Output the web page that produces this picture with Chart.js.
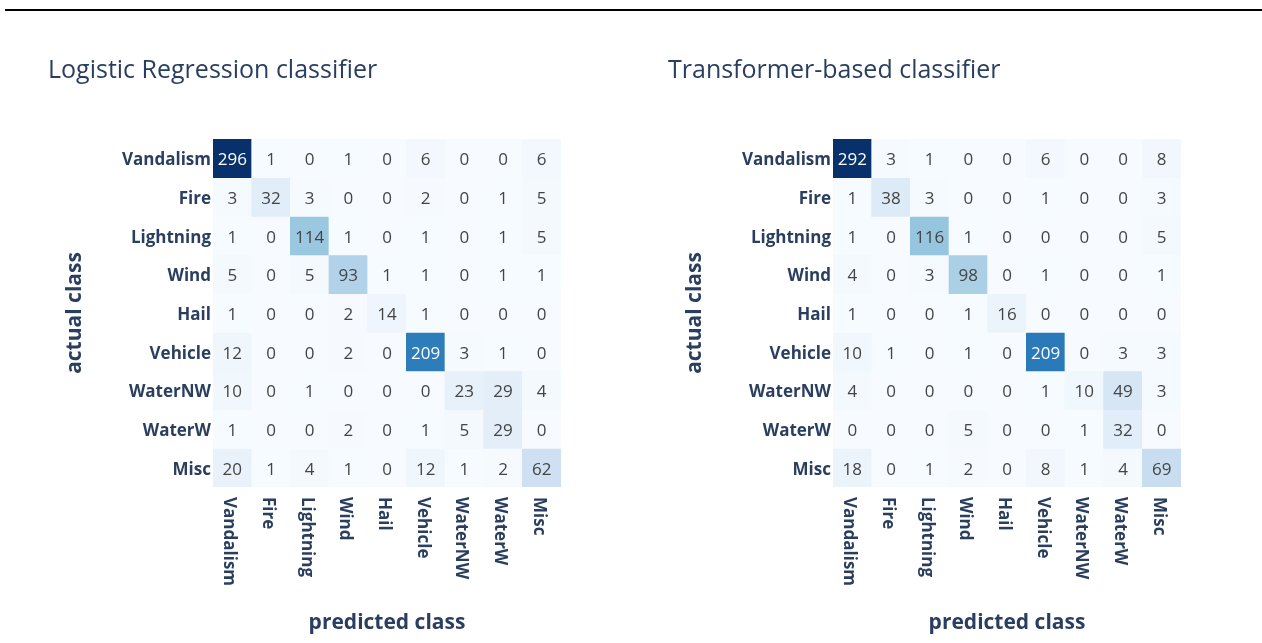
<!DOCTYPE html>
<html>
<head>
<meta charset="utf-8">
<script src="https://cdn.jsdelivr.net/npm/chart.js@4/dist/chart.umd.min.js"></script>
<style>
  html, body { margin: 0; padding: 0; background: #fff; }
  body { width: 1262px; height: 643px; position: relative; overflow: hidden; }
  .topline { position: absolute; left: 5px; top: 9px; width: 1257px; height: 2px; background: #000; }
  .box { position: absolute; top: 0; width: 631px; height: 643px; }
</style>
</head>
<body>
<div class="topline"></div>
<div class="box" style="left:0"><canvas id="lrChart" width="631" height="643"></canvas></div>
<div class="box" style="left:620px"><canvas id="tfChart" width="631" height="643"></canvas></div>
<script>
const classes = ['Vandalism', 'Fire', 'Lightning', 'Wind', 'Hail', 'Vehicle', 'WaterNW', 'WaterW', 'Misc'];

// rows = actual class, columns = predicted class
const lrCounts = [
  [296, 1, 0, 1, 0, 6, 0, 0, 6],
  [3, 32, 3, 0, 0, 2, 0, 1, 5],
  [1, 0, 114, 1, 0, 1, 0, 1, 5],
  [5, 0, 5, 93, 1, 1, 0, 1, 1],
  [1, 0, 0, 2, 14, 1, 0, 0, 0],
  [12, 0, 0, 2, 0, 209, 3, 1, 0],
  [10, 0, 1, 0, 0, 0, 23, 29, 4],
  [1, 0, 0, 2, 0, 1, 5, 29, 0],
  [20, 1, 4, 1, 0, 12, 1, 2, 62],
];

const tfCounts = [
  [292, 3, 1, 0, 0, 6, 0, 0, 8],
  [1, 38, 3, 0, 0, 1, 0, 0, 3],
  [1, 0, 116, 1, 0, 0, 0, 0, 5],
  [4, 0, 3, 98, 0, 1, 0, 0, 1],
  [1, 0, 0, 1, 16, 0, 0, 0, 0],
  [10, 1, 0, 1, 0, 209, 0, 3, 3],
  [4, 0, 0, 0, 0, 1, 10, 49, 3],
  [0, 0, 0, 5, 0, 0, 1, 32, 0],
  [18, 0, 1, 2, 0, 8, 1, 4, 69],
];

const FONT = "'Open Sans', 'Noto Sans', sans-serif";
const NAVY = '#2a3f5f';

// plotly "Blues" colorscale
const blues = [
  [0, [247, 251, 255]], [0.125, [222, 235, 247]], [0.25, [198, 219, 239]],
  [0.375, [158, 202, 225]], [0.5, [107, 174, 214]], [0.625, [66, 146, 198]],
  [0.75, [33, 113, 181]], [0.875, [8, 81, 156]], [1, [8, 48, 107]],
];

function blueFor(t) {
  for (let i = 1; i < blues.length; i++) {
    if (t <= blues[i][0]) {
      const [t0, c0] = blues[i - 1];
      const [t1, c1] = blues[i];
      const f = (t - t0) / (t1 - t0);
      const c = c0.map((v, k) => Math.round(v + (c1[k] - v) * f));
      return `rgb(${c[0]},${c[1]},${c[2]})`;
    }
  }
  return 'rgb(8,48,107)';
}

const cellText = {
  id: 'cellText',
  afterDatasetsDraw(chart) {
    const { ctx } = chart;
    const max = chart.options.plugins.cellText.max;
    ctx.save();
    ctx.font = `17px ${FONT}`;
    ctx.textAlign = 'center';
    ctx.textBaseline = 'middle';
    chart.data.datasets.forEach((ds, r) => {
      const meta = chart.getDatasetMeta(r);
      meta.data.forEach((bar, c) => {
        const v = ds.counts[c];
        ctx.fillStyle = v / max > 0.5 ? '#fff' : 'rgb(68,68,68)';
        ctx.fillText(String(v), bar.x, (bar.y + bar.base) / 2 + 2);
      });
    });
    ctx.restore();
  },
};

// x tick labels rotated clockwise (read top to bottom)
const xLabels = {
  id: 'xLabels',
  afterDraw(chart) {
    const { ctx } = chart;
    const x = chart.scales.x;
    ctx.save();
    ctx.font = `bold 17px ${FONT}`;
    ctx.fillStyle = NAVY;
    ctx.textAlign = 'left';
    ctx.textBaseline = 'middle';
    classes.forEach((lab, i) => {
      ctx.save();
      ctx.translate(x.getPixelForTick(i) - 3, chart.chartArea.bottom + 10);
      ctx.rotate(Math.PI / 2);
      ctx.fillText(lab, 0, 0);
      ctx.restore();
    });
    ctx.restore();
  },
};

function buildMatrix(canvasId, title, counts) {
  const max = Math.max(...counts.flat());
  const datasets = counts.map((row, r) => ({
    label: classes[r],
    counts: row,
    data: row.map(() => [r - 0.5, r + 0.5]),
    backgroundColor: row.map(v => blueFor(v / max)),
    borderWidth: 0,
    grouped: false,
    barPercentage: 1,
    categoryPercentage: 1,
  }));

  return new Chart(document.getElementById(canvasId), {
    type: 'bar',
    data: { labels: classes, datasets },
    plugins: [cellText, xLabels],
    options: {
      responsive: false,
      animation: false,
      layout: { padding: { top: 56, left: 48, right: 70, bottom: 0 } },
      plugins: {
        legend: { display: false },
        tooltip: { enabled: false },
        cellText: { max },
        title: {
          display: true,
          text: title,
          align: 'start',
          color: NAVY,
          font: { family: FONT, size: 25, weight: 'normal' },
          padding: { top: 0, bottom: 53 },
        },
      },
      scales: {
        x: {
          type: 'category',
          offset: true,
          grid: { display: false, drawTicks: false },
          border: { display: false },
          ticks: { display: false },
          title: {
            display: true,
            text: 'predicted class',
            color: NAVY,
            font: { family: FONT, size: 21, weight: 'bold' },
            padding: { top: 0, bottom: 7.4 },
          },
          afterFit(scale) { scale.height = 156; },
        },
        y: {
          type: 'linear',
          min: -0.5,
          max: 8.5,
          reverse: true,
          grid: { display: false, drawTicks: false },
          border: { display: false },
          afterBuildTicks(scale) { scale.ticks = classes.map((_, i) => ({ value: i })); },
          ticks: {
            padding: 2,
            labelOffset: 2,
            color: NAVY,
            font: { family: FONT, size: 17, weight: 'bold' },
            callback: v => classes[v],
          },
          title: {
            display: true,
            text: 'actual class',
            color: NAVY,
            font: { family: FONT, size: 21, weight: 'bold' },
            padding: { top: 14.5, bottom: 0 },
          },
          afterFit(scale) { scale.width = 165; },
        },
      },
    },
  });
}

buildMatrix('lrChart', 'Logistic Regression classifier', lrCounts);
buildMatrix('tfChart', 'Transformer-based classifier', tfCounts);
</script>
</body>
</html>
